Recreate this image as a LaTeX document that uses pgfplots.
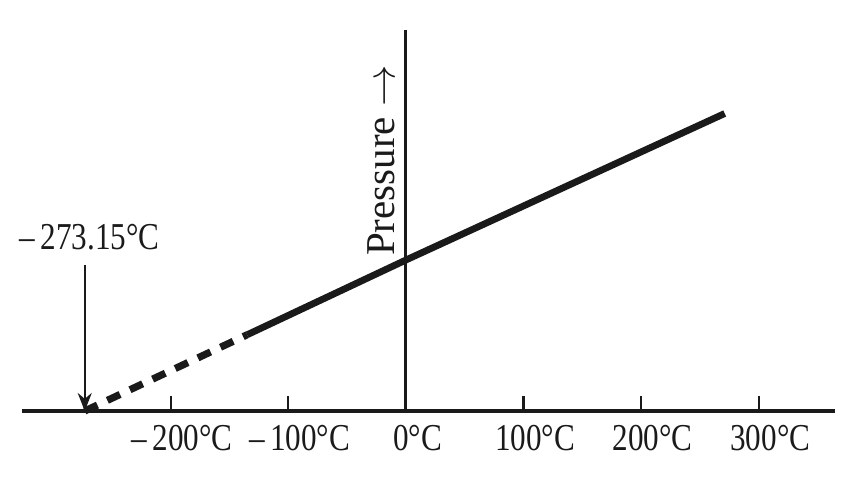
\documentclass[border=0pt]{standalone}
\usepackage{pgfplots}
\pgfplotsset{compat=1.18}
\usepackage{fontspec}
\setmainfont{Liberation Serif}
\usetikzlibrary{arrows.meta}
\definecolor{ink}{HTML}{1A1A1A}

\begin{document}
\begin{tikzpicture}
\useasboundingbox (-11pt,-43pt) rectangle (419.5pt,205.5pt);
\begin{axis}[
  at={(0,0)}, anchor=south west,
  scale only axis, width=406.5pt, height=190.5pt,
  xmin=-326.5, xmax=364.8, ymin=0, ymax=2.523,
  axis x line=bottom, axis y line=none,
  x axis line style={-, line width=2.2pt, color=ink},
  xtick={-200,-100,0,100,200,300},
  xticklabels={–\,200°C, –\,100°C, 0°C, 100°C, 200°C, 300°C},
  ytick=\empty,
  tick align=inside, major tick length=7.5pt,
  xtick style={line width=1.1pt, color=ink},
  xticklabel style={font=\fontsize{19}{22}\selectfont, xscale=0.82, xshift=7pt, yshift=-3.5pt, text=ink},
  clip=false,
]
% extrapolated part
\addplot[ink, line width=3.6pt, dash pattern=on 7pt off 5.5pt] coordinates {(-273.15,0) (-135,0.505)};
% measured part
\addplot[ink, line width=3.4pt] coordinates {(-135,0.505) (0,1) (271,1.97)};

\draw[ink, line width=1.5pt] (axis cs:0,0) -- (axis cs:0,2.523);
\node[rotate=90, anchor=west, font=\fontsize{20.5}{24}\selectfont, text=ink] at (axis cs:-21,0.98) {Pressure\ $\rightarrow$};

\node[font=\fontsize{19}{22}\selectfont, xscale=0.82, text=ink] at (axis cs:-269,1.15) {–\,273.15°C};
\draw[ink, line width=1pt, -{Stealth[length=9pt,width=7pt]}] (axis cs:-273.15,0.967) -- (axis cs:-273.15,0);
\end{axis}
\end{tikzpicture}
\end{document}
